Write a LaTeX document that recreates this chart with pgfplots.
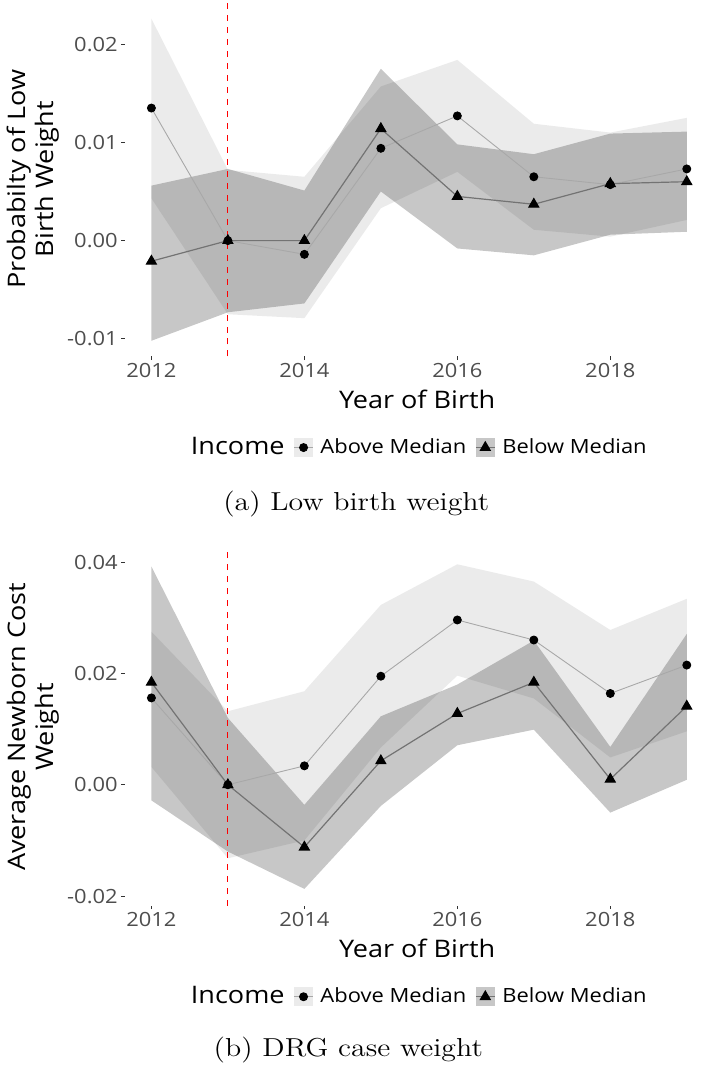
\documentclass[border=0pt]{standalone}
\usepackage{fontspec}
\setmainfont{Latin Modern Roman}
\newfontfamily\plotfont{Open Sans}[FakeStretch=1.12]
\newfontfamily\capfont{Latin Modern Roman}[FakeStretch=1.15]
\usepackage{pgfplots}
\usepackage{pgfplotstable}
\usepgfplotslibrary{fillbetween}
\pgfplotsset{compat=1.18}

\definecolor{ticktext}{HTML}{4D4D4D}
\definecolor{tickmark}{HTML}{333333}
\definecolor{abovecol}{HTML}{A8A8A8}
\definecolor{belowcol}{HTML}{737373}

% Event-study estimates with 95% bands, by income group
\pgfplotstableread{
year a       alo     ahi     b       blo     bhi
2012 0.0135  0.0043  0.0226  -0.0021 -0.0102 0.0056
2013 0.0000  -0.0075 0.0072  0.0000  -0.0073 0.0073
2014 -0.0014 -0.0079 0.0065  0.0000  -0.0064 0.0051
2015 0.0094  0.0033  0.0157  0.0114  0.0050  0.0175
2016 0.0127  0.0070  0.0184  0.0045  -0.0008 0.0098
2017 0.0065  0.0011  0.0119  0.0037  -0.0015 0.0088
2018 0.0057  0.0004  0.0110  0.0058  0.0006  0.0109
2019 0.0073  0.0021  0.0125  0.0060  0.0009  0.0111
}\lbw

\pgfplotstableread{
year a       alo     ahi     b       blo     bhi
2012 0.0156  0.0032  0.0275  0.0184  -0.0028 0.0392
2013 0.0000  -0.0132 0.0132  0.0000  -0.0120 0.0120
2014 0.0034  -0.0100 0.0168  -0.0112 -0.0187 -0.0036
2015 0.0195  0.0067  0.0323  0.0043  -0.0038 0.0123
2016 0.0296  0.0196  0.0396  0.0128  0.0071  0.0180
2017 0.0260  0.0155  0.0365  0.0184  0.0099  0.0259
2018 0.0164  0.0049  0.0278  0.0010  -0.0050 0.0068
2019 0.0215  0.0096  0.0334  0.0141  0.0009  0.0271
}\drg

\pgfplotsset{
  eventstudy/.style={
    scale only axis,
    width=293pt,
    xmin=2011.65, xmax=2019.3,
    axis x line*=bottom, axis y line*=left,
    axis line style={draw=none},
    scaled ticks=false,
    tick align=outside,
    major tick length=1.8pt,
    tick style={color=tickmark, line width=0.4pt},
    xtick={2012,2014,2016,2018},
    xticklabels={2012,2014,2016,2018},
    ticklabel style={font=\plotfont\fontsize{9.8}{12}\selectfont, text=ticktext},
    xticklabel style={inner sep=1.5pt},
    yticklabel style={inner sep=1.5pt},
    xlabel={Year of Birth},
    label style={font=\plotfont\fontsize{12.1}{14}\selectfont, text=black},
    ylabel style={align=center, at={(axis description cs:-0.157,0.5)}, anchor=center},
    legend columns=-1,
    legend cell align=left,
    legend style={draw=none, fill=none, anchor=center,
      font=\plotfont\fontsize{9.8}{12}\selectfont,
      /tikz/every odd column/.append style={column sep=1.5pt},
      /tikz/every even column/.append style={column sep=2.5pt}},
  },
  ribbon/.style={draw=none, fill=black, fill opacity=#1, forget plot},
  abovestyle/.style={color=abovecol, line width=0.45pt, mark=*, mark size=2pt,
    mark options={fill=black, draw=black},
    legend image code/.code={
      \fill[black, fill opacity=0.08, draw=none] (0pt,-4.75pt) rectangle (9.5pt,4.75pt);
      \draw[##1, mark repeat=2, mark phase=2] plot coordinates {(0pt,0pt)(4.75pt,0pt)(9.5pt,0pt)};
    }},
  belowstyle/.style={color=belowcol, line width=0.6pt, mark=triangle*, mark size=2.8pt,
    mark options={fill=black, draw=black},
    legend image code/.code={
      \fill[black, fill opacity=0.22, draw=none] (0pt,-4.75pt) rectangle (9.5pt,4.75pt);
      \draw[##1, mark repeat=2, mark phase=2] plot coordinates {(0pt,0pt)(4.75pt,0pt)(9.5pt,0pt)};
    }},
  titleimage/.style={legend image code/.code={\path[draw=none] (0pt,0pt) -- (0.1pt,0pt);}},
}

\begin{document}
\begin{tikzpicture}
% page frame
\path (0,0) rectangle (354.5pt,-535pt);

% (a) low birth weight
\begin{axis}[eventstudy,
  at={(61pt,-1pt)}, anchor=north west,
  height=177.5pt,
  ymin=-0.0118, ymax=0.0243,
  ytick={-0.01,0,0.01,0.02},
  yticklabels={-0.01,0.00,0.01,0.02},
  ylabel={Probabilty of Low\\Birth Weight},
  xlabel style={at={(axis description cs:0.5,-0.121)}, anchor=center},
  legend style={at={(axis description cs:0.5,-0.257)}},
]
\addplot[name path=lah, draw=none, forget plot] table[x=year,y=ahi]{\lbw};
\addplot[name path=lal, draw=none, forget plot] table[x=year,y=alo]{\lbw};
\addplot[ribbon=0.08] fill between[of=lah and lal];
\addplot[name path=lbh, draw=none, forget plot] table[x=year,y=bhi]{\lbw};
\addplot[name path=lbl, draw=none, forget plot] table[x=year,y=blo]{\lbw};
\addplot[ribbon=0.22] fill between[of=lbh and lbl];
\addplot[red, dashed, line width=0.5pt, forget plot]
  coordinates {(2013,-0.0118) (2013,0.0243)};
\addlegendimage{titleimage}
\addlegendentry{\fontsize{12.1}{14}\selectfont Income}
\addplot[abovestyle] table[x=year,y=a]{\lbw};
\addlegendentry{Above Median}
\addplot[belowstyle] table[x=year,y=b]{\lbw};
\addlegendentry{Below Median}
\end{axis}
\node[font=\capfont\fontsize{13}{15}\selectfont] at (177pt,-252.5pt) {(a) Low birth weight};

% (b) DRG case weight
\begin{axis}[eventstudy,
  at={(61pt,-274.5pt)}, anchor=north west,
  height=179pt,
  ymin=-0.0217, ymax=0.0425,
  ytick={-0.02,0,0.02,0.04},
  yticklabels={-0.02,0.00,0.02,0.04},
  ylabel={Average Newborn Cost\\Weight},
  xlabel style={at={(axis description cs:0.5,-0.12)}, anchor=center},
  legend style={at={(axis description cs:0.5,-0.255)}},
]
\addplot[name path=dah, draw=none, forget plot] table[x=year,y=ahi]{\drg};
\addplot[name path=dal, draw=none, forget plot] table[x=year,y=alo]{\drg};
\addplot[ribbon=0.08] fill between[of=dah and dal];
\addplot[name path=dbh, draw=none, forget plot] table[x=year,y=bhi]{\drg};
\addplot[name path=dbl, draw=none, forget plot] table[x=year,y=blo]{\drg};
\addplot[ribbon=0.22] fill between[of=dbh and dbl];
\addplot[red, dashed, line width=0.5pt, forget plot]
  coordinates {(2013,-0.0217) (2013,0.0425)};
\addlegendimage{titleimage}
\addlegendentry{\fontsize{12.1}{14}\selectfont Income}
\addplot[abovestyle] table[x=year,y=a]{\drg};
\addlegendentry{Above Median}
\addplot[belowstyle] table[x=year,y=b]{\drg};
\addlegendentry{Below Median}
\end{axis}
\node[font=\capfont\fontsize{13}{15}\selectfont] at (173pt,-526pt) {(b) DRG case weight};
\end{tikzpicture}
\end{document}
